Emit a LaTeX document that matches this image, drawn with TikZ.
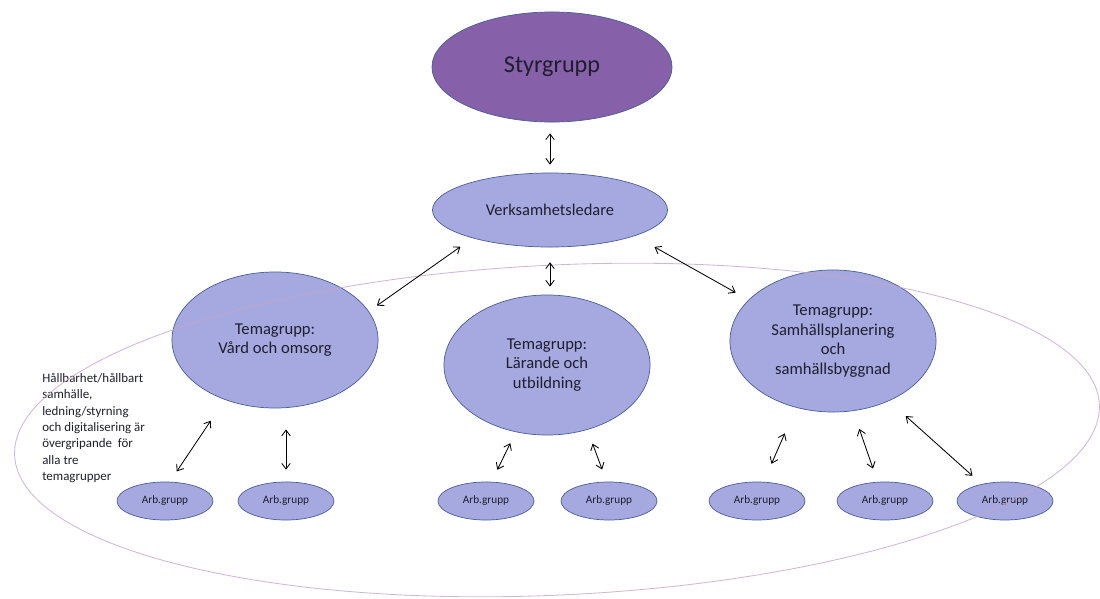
\documentclass[tikz,border=0pt]{standalone}
\usepackage{fontspec}
\setmainfont{Carlito}
\usetikzlibrary{shapes.geometric,arrows.meta}
\definecolor{styrlila}{RGB}{134,96,168}
\definecolor{temablue}{RGB}{165,169,224}
\definecolor{kantblue}{RGB}{72,94,150}
\definecolor{ramlila}{RGB}{196,166,200}
\definecolor{textmork}{RGB}{30,30,45}
\begin{document}
\begin{tikzpicture}[x=0.025cm, y=-0.025cm,
        grupp/.style={ellipse, draw=kantblue, line width=0.5pt, fill=temablue, inner sep=0pt, text=textmork, align=center},
        tema/.style={grupp, minimum width=5.15cm, font=\fontsize{11.8}{13.8}\selectfont},
        arb/.style={grupp, minimum width=2.4cm, minimum height=0.95cm, font=\fontsize{8}{10}\selectfont},
        pil/.style={{Straight Barb[length=4pt,width=6pt]}-{Straight Barb[length=4pt,width=6pt]}, line width=0.6pt, black}]
        \useasboundingbox (0,0) rectangle (1100,599);
        \node[ellipse, draw=kantblue, line width=0.5pt, fill=styrlila, inner sep=0pt, minimum width=6cm, minimum height=2.75cm, text=textmork, font=\fontsize{17.2}{20}\selectfont] (styr) at (552,67) {Styrgrupp};
        \node[grupp, minimum width=5.875cm, minimum height=1.85cm, font=\fontsize{11.7}{13.8}\selectfont] (leder) at (550,210) {Verksamhetsledare};
        \node[tema, minimum height=3.4cm] (vard) at (275,340) {Temagrupp:\\Vård och omsorg};
        \node[tema, minimum height=3.5cm] (lar) at (547,365) {Temagrupp:\\Lärande och\\utbildning};
        \node[tema, minimum height=3.55cm] (samh) at (833,341) {Temagrupp:\\Samhällsplanering\\och\\samhällsbyggnad};
        \node[arb] (a1) at (165,501) {Arb.grupp};
        \node[arb] (a2) at (286,501) {Arb.grupp};
        \node[arb] (a3) at (486,501) {Arb.grupp};
        \node[arb] (a4) at (609,501) {Arb.grupp};
        \node[arb] (a5) at (757,501) {Arb.grupp};
        \node[arb] (a6) at (885,501) {Arb.grupp};
        \node[arb] (a7) at (1005,501) {Arb.grupp};
        \node[anchor=north west, align=left, inner sep=0pt, text=textmork, font=\fontsize{9.2}{11.6}\selectfont] (tvar) at (42,373) {Hållbarhet/hållbart\\samhälle,\\ledning/styrning\\och digitalisering\ är\\övergripande\ \ för\\alla tre\\temagrupper};
        \begin{scope}
            \clip (0,0) rectangle (1100,599);
            \draw[ramlila, line width=0.6pt, opacity=0.8, rotate around={2.7:(557,430)}] (557,430) ellipse (543 and 165);
        \end{scope}
        \draw[pil, shorten <=7.8pt, shorten >=5.7pt] (leder.north |- styr.south) -- (leder.north);
        \draw[pil, shorten <=10.6pt, shorten >=7pt] (leder.200) -- (vard.17);
        \draw[pil, shorten <=10.6pt, shorten >=5.7pt] (leder.south) -- (leder.south |- lar.north);
        \draw[pil, shorten <=16pt, shorten >=10.5pt] (leder.343) -- (samh.154);
        \draw[pil, shorten <=18pt, shorten >=8.8pt] (vard.230) -- (a1.76);
        \draw[pil, shorten <=15pt, shorten >=8.5pt] (a2.north |- vard.south) -- (a2.north);
        \draw[pil, shorten <=8.8pt, shorten >=9.5pt] (lar.245) -- (a3.74);
        \draw[pil, shorten <=10.5pt, shorten >=9.2pt] (lar.302) -- (a4.97);
        \draw[pil, shorten <=20pt, shorten >=14pt] (samh.241) -- (a5.71);
        \draw[pil, shorten <=13.5pt, shorten >=10pt] (samh.286) -- (a6.111);
        \draw[pil, shorten <=16pt, shorten >=8.8pt] (samh.313) -- (a7.144);
    \end{tikzpicture}
\end{document}
